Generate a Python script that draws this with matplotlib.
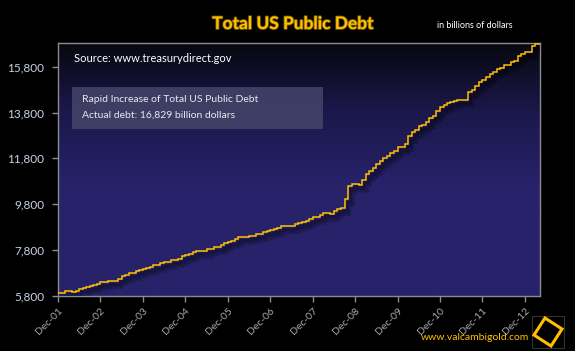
import numpy as np
import pandas as pd
import matplotlib
matplotlib.use("Agg")
import matplotlib.pyplot as plt
import matplotlib.dates as mdates
import matplotlib.patheffects as pe
from matplotlib.patches import Rectangle, Polygon
from matplotlib.colors import LinearSegmentedColormap

# ---- data (billions of dollars, month-end) ----
start_month = "2001-12"
end_month = "2013-04"
debt = [
    5943,
    5937, 6003, 6006, 5984, 6019, 6126, 6159, 6211, 6228, 6282, 6343, 6405,
    6401, 6445, 6460, 6460, 6558, 6670, 6712, 6790, 6783, 6872, 6925, 6998,
    7001, 7063, 7131, 7158, 7229, 7274, 7292, 7365, 7379, 7429, 7526, 7596,
    7628, 7713, 7777, 7776, 7777, 7836, 7868, 7933, 7933, 8027, 8092, 8170,
    8196, 8270, 8371, 8357, 8362, 8420, 8437, 8504, 8507, 8592, 8626, 8680,
    8707, 8780, 8849, 8831, 8840, 8867, 8932, 8993, 9008, 9079, 9149, 9229,
    9238, 9315, 9437, 9413, 9389, 9492, 9585, 9645, 10024, 10574, 10662, 10700,
    10632, 10878, 11127, 11239, 11366, 11545, 11677, 11813, 11910, 12041, 12111, 12311,
    12278, 12439, 12773, 12949, 13050, 13201, 13246, 13386, 13561, 13668, 13861, 14025,
    14131, 14195, 14270, 14290, 14344, 14343, 14343, 14684, 14790, 14974, 15111, 15222,
    15356, 15489, 15582, 15692, 15748, 15855, 15888, 16015, 16066, 16261, 16370, 16432,
    16433, 16687, 16771, 16829,
]
tick_years = list(range(2001, 2013))
tick_labels = ["Dec-%02d" % (y % 100) for y in tick_years]
y_ticks = [5800, 7800, 9800, 11800, 13800, 15800]

title = "Total US Public Debt"
units = "in billions of dollars"
source = "Source: www.treasurydirect.gov"
note1 = "Rapid Increase of Total US Public Debt"
note2 = "Actual debt: 16,829 billion dollars"
website = "www.valcambigold.com"

dates = pd.date_range(start_month, end_month, freq="MS")
x = mdates.date2num(dates.to_pydatetime())

plt.rcParams["font.family"] = ["Lato", "DejaVu Sans"]

fig = plt.figure(figsize=(5.75, 3.51), dpi=100, facecolor="black")
ax = fig.add_axes([58 / 575, 1 - 296 / 351, (540 - 58) / 575, (296 - 43) / 351])
ax.set_facecolor("#27226a")

# gradient background
grad = np.linspace(0, 1, 256).reshape(-1, 1)
cmap = LinearSegmentedColormap.from_list(
    "bg", [(0, "#27226a"), (0.45, "#27226a"), (0.75, "#1a1748"), (1.0, "#07070f")])
ax.imshow(grad, aspect="auto", cmap=cmap, origin="lower",
          extent=[0, 1, 0, 1], transform=ax.transAxes, zorder=0)

xmin = mdates.date2num(pd.Timestamp("2001-12-01").to_pydatetime())
xmax = mdates.date2num(pd.Timestamp("2013-04-10").to_pydatetime())
ax.set_xlim(xmin, xmax)
ax.set_ylim(5800, 16830)

ax.plot(x, debt, color="#ffc000", lw=1.1, drawstyle="steps-post", zorder=3,
        solid_joinstyle="miter",
        path_effects=[pe.SimpleLineShadow(offset=(2.5, -3.5), shadow_color="black", alpha=0.22, linewidth=4),
                      pe.SimpleLineShadow(offset=(1.5, -2), shadow_color="black", alpha=0.22, linewidth=2.5),
                      pe.Normal()])

tick_pos = [mdates.date2num(pd.Timestamp("%d-12-01" % y).to_pydatetime()) for y in tick_years]
ax.set_xticks(tick_pos)
ax.set_xticklabels(tick_labels, rotation=45, ha="right", rotation_mode="anchor",
                   color="#a8a8b0", fontsize=7.5)
ax.set_yticks(y_ticks)
ax.set_yticklabels(["{:,}".format(v) for v in y_ticks], color="#c8d2e6", fontsize=8.5)
ax.tick_params(axis="both", colors="#8c8c8c", length=4, width=1, direction="out")
ax.tick_params(axis="x", labelcolor="#a8a8b0", pad=3)
ax.tick_params(axis="y", labelcolor="#c8d2e6", pad=6)
for s in ax.spines.values():
    s.set_color("#8c8c8c")
    s.set_linewidth(1)

# texts
fig.text(293 / 575, 1 - 24 / 351, title, color="#ffc000", fontsize=12.5, fontweight="bold",
         ha="center", va="center",
         path_effects=[pe.withStroke(linewidth=1.2, foreground="#7a5a00")])
fig.text(437 / 575, 1 - 25 / 351, units, color="white", fontsize=6.5, ha="left", va="center")
ax.text(74 / 575, 1 - 58 / 351, source, transform=fig.transFigure, color="white",
        fontsize=8, ha="left", va="center", zorder=5)

box = Rectangle((72 / 575, 1 - 129 / 351), (323 - 72) / 575, (129 - 87) / 351,
                transform=fig.transFigure, facecolor="#45446a", alpha=0.85,
                edgecolor="none", zorder=4)
fig.add_artist(box)
fig.text(82 / 575, 1 - 100 / 351, note1, color="#e8e8ee", fontsize=7.5, ha="left", va="center", zorder=5)
fig.text(82 / 575, 1 - 115 / 351, note2, color="#e8e8ee", fontsize=7.5, ha="left", va="center", zorder=5)

fig.text(529 / 575, 1 - 337 / 351, website, color="#ffc000", fontsize=7.5, ha="right", va="center")

# logo
logo_bg = Rectangle((532 / 575, 1 - 348 / 351), 32 / 575, 32 / 351, transform=fig.transFigure,
                    facecolor="black", edgecolor="#333333", lw=0.8)
fig.add_artist(logo_bg)
cx, cy = 548, 332
pts = [(cx - 3, cy - 14), (cx + 14, cy - 3), (cx + 3, cy + 14), (cx - 14, cy + 3)]
logo = Polygon([(px / 575, 1 - py / 351) for px, py in pts], closed=True,
               transform=fig.transFigure, facecolor="none", edgecolor="#ffc000", lw=2.2)
fig.add_artist(logo)

fig.savefig("out.png", dpi=100, facecolor="black")
